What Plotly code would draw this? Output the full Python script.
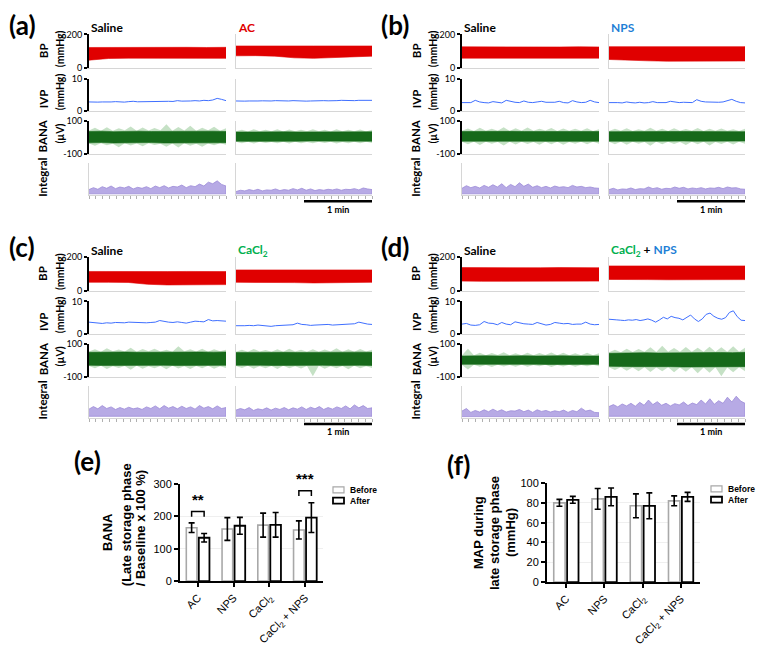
import plotly.graph_objects as go

W, H = 758, 648
FT = "Lato"
FB = "Liberation Sans"

# ---------------- data: recordings (order: a-saline, a-drug, b-saline, b-drug, c-saline, c-drug, d-saline, d-drug)
panel_letters = ["(a)", "(b)", "(c)", "(d)"]
drug_titles = [
    "<span style='color:#e00000'>AC</span>",
    "<span style='color:#1f7fd6'>NPS</span>",
    "<span style='color:#00b050'>CaCl<sub>2</sub></span>",
    "<span style='color:#00b050'>CaCl<sub>2</sub></span> + <span style='color:#1f7fd6'>NPS</span>",
]
row_names = ["BP", "IVP", "BANA", "Integral"]
row_units = ["(mmHg)", "(mmHg)", "(µV)", ""]
row_ranges = [[0, 200], [0, 10], [-100, 100], [0, 10]]
row_ticklabels = [["0", "200"], ["0", "10"], ["-100", "100"], None]

bp_upper = [
    [122, 123, 122, 123, 122, 123, 122, 123],
    [131, 132, 131, 130, 131, 131, 130, 131],
    [126, 125, 126, 125, 126, 125, 126, 125],
    [127, 127, 126, 127, 127, 126, 127, 127],
    [115, 114, 115, 114, 114, 115, 114, 114],
    [124, 124, 123, 124, 124, 123, 124, 124],
    [138, 137, 138, 138, 137, 138, 138, 137],
    [148, 148, 147, 148, 148, 147, 148, 148],
]
bp_lower = [
    [46, 56, 58, 58, 57, 58, 58, 57],
    [72, 73, 70, 60, 57, 60, 65, 70],
    [58, 58, 57, 55, 55, 57, 58, 58],
    [50, 46, 42, 40, 39, 40, 40, 41],
    [50, 50, 49, 38, 34, 34, 35, 36],
    [50, 50, 50, 48, 46, 45, 48, 50],
    [57, 56, 56, 56, 57, 56, 56, 57],
    [67, 66, 66, 65, 66, 66, 65, 66],
]
ivp = [
    [2.8, 2.7, 2.75, 2.8, 2.7, 2.8, 2.9, 2.8, 2.75, 2.9, 3.0, 2.85, 2.9, 2.8, 2.95, 3.0, 2.9, 3.1, 3.0, 2.95, 3.2, 3.05, 3.0, 3.1, 3.2, 3.1, 3.3, 3.2, 3.4, 3.9, 3.6, 3.2],
    [3.1, 3.0, 3.05, 3.1, 3.0, 3.1, 3.15, 3.05, 3.1, 3.2, 3.1, 3.0, 3.1, 3.2, 3.1, 3.15, 3.05, 3.1, 3.2, 3.1, 3.2, 3.15, 3.1, 3.2, 3.3, 3.2, 3.1, 3.2, 3.3, 3.35, 3.25, 3.3],
    [2.6, 2.5, 2.6, 3.3, 2.8, 2.6, 2.5, 2.9, 2.6, 2.5, 3.3, 2.9, 2.7, 2.6, 3.1, 2.7, 2.6, 2.8, 3.0, 2.7, 2.6, 2.7, 3.0, 2.6, 2.5, 3.2, 2.8, 2.6, 2.7, 3.3, 2.8, 2.6],
    [2.6, 2.7, 2.6, 2.5, 2.8, 2.6, 2.5, 2.7, 2.5, 2.6, 2.9, 2.6, 2.5, 2.6, 3.0, 2.7, 2.6, 2.7, 2.6, 2.6, 3.5, 3.0, 2.8, 2.7, 2.6, 2.7, 2.8, 3.1, 3.6, 3.0, 2.6, 2.5],
    [3.6, 3.5, 3.3, 3.2, 3.4, 3.3, 3.5, 3.4, 3.4, 3.6, 3.5, 3.4, 3.5, 3.4, 3.5, 3.6, 4.1, 3.8, 3.6, 3.5, 3.7, 3.5, 3.3, 3.6, 3.9, 3.8, 3.7, 4.4, 4.0, 4.1, 3.9, 3.9],
    [2.5, 2.4, 2.5, 2.6, 2.5, 2.7, 2.6, 2.5, 2.3, 2.5, 2.6, 2.7, 2.6, 2.8, 3.3, 2.9, 2.8, 2.6, 2.7, 2.8, 3.0, 2.9, 2.7, 2.8, 2.9, 3.0, 2.9, 3.1, 3.6, 3.2, 3.0, 2.9],
    [3.0, 3.2, 2.7, 2.6, 2.8, 3.8, 3.3, 3.2, 2.8, 3.5, 3.0, 2.8, 3.7, 3.3, 3.1, 3.0, 2.9, 3.5, 3.0, 2.7, 2.9, 3.5, 3.3, 3.1, 3.2, 2.9, 3.0, 3.0, 3.6, 3.0, 2.8, 2.9],
    [4.5, 4.3, 4.3, 4.2, 4.1, 4.3, 4.2, 4.4, 4.1, 4.3, 4.6, 4.2, 3.6, 4.3, 5.1, 4.6, 5.4, 5.0, 4.8, 4.3, 5.0, 5.8, 4.6, 3.8, 4.6, 6.0, 6.4, 5.4, 4.8, 4.5, 5.0, 6.6, 7.1, 5.3, 4.2, 4.1],
]
bana_core_hi = [
    [36, 38, 35, 37, 38, 36, 37, 39, 38, 37, 38, 36],
    [33, 34, 33, 32, 34, 33, 33, 34, 33, 34, 33, 34],
    [36, 37, 36, 35, 37, 36, 36, 37, 36, 37, 36, 36],
    [35, 36, 35, 36, 35, 36, 36, 35, 36, 35, 36, 35],
    [48, 50, 49, 50, 48, 49, 50, 49, 48, 50, 49, 50],
    [47, 48, 47, 49, 48, 47, 48, 49, 47, 48, 49, 48],
    [26, 28, 27, 26, 28, 27, 26, 28, 27, 26, 27, 26],
    [42, 44, 45, 46, 44, 45, 47, 46, 45, 47, 46, 48],
]
bana_core_lo = [
    [-32, -30, -33, -31, -32, -30, -33, -32, -31, -33, -32, -31],
    [-22, -23, -21, -22, -23, -22, -21, -22, -23, -22, -21, -22],
    [-22, -23, -22, -21, -23, -22, -22, -23, -21, -22, -23, -22],
    [-22, -21, -23, -22, -22, -23, -21, -22, -23, -22, -22, -21],
    [-30, -31, -30, -32, -30, -31, -30, -31, -32, -30, -31, -30],
    [-30, -31, -30, -31, -32, -30, -31, -30, -31, -32, -30, -31],
    [-24, -25, -24, -23, -25, -24, -24, -25, -23, -24, -25, -24],
    [-36, -37, -38, -38, -39, -38, -40, -39, -38, -40, -39, -38],
]
bana_spike_hi = [
    [42, 58, 40, 62, 41, 55, 43, 66, 40, 60, 42, 57, 44, 80, 41, 63, 42, 70, 40, 58, 43, 65, 41, 55],
    [37, 47, 36, 50, 37, 46, 38, 49, 36, 48, 37, 46, 38, 50, 37, 47, 36, 49, 38, 46, 37, 48, 36, 47],
    [40, 54, 39, 58, 41, 52, 40, 62, 39, 55, 41, 60, 40, 53, 42, 57, 39, 54, 41, 52, 40, 56, 39, 50],
    [39, 52, 40, 56, 39, 50, 41, 58, 40, 53, 39, 55, 41, 51, 40, 57, 39, 52, 41, 54, 40, 50, 39, 52],
    [53, 66, 52, 72, 54, 65, 53, 76, 52, 68, 54, 70, 53, 64, 52, 85, 54, 67, 53, 70, 52, 66, 54, 63],
    [52, 64, 51, 68, 53, 62, 52, 66, 51, 70, 53, 64, 52, 67, 51, 65, 53, 72, 52, 66, 51, 68, 53, 64],
    [30, 70, 31, 46, 30, 44, 32, 48, 30, 43, 31, 46, 30, 44, 32, 47, 30, 45, 31, 43, 30, 46, 31, 42],
    [48, 64, 49, 70, 50, 68, 51, 78, 50, 88, 51, 74, 52, 80, 51, 76, 52, 82, 51, 78, 52, 84, 51, 76],
]
bana_spike_lo = [
    [-36, -50, -35, -46, -37, -58, -35, -48, -36, -52, -35, -45, -37, -56, -36, -60, -35, -49, -37, -55, -36, -47, -35, -44],
    [-26, -34, -25, -36, -26, -33, -27, -35, -25, -36, -26, -34, -27, -35, -25, -33, -26, -36, -27, -34, -25, -35, -26, -33],
    [-26, -40, -25, -45, -26, -38, -27, -48, -25, -42, -26, -39, -27, -44, -25, -40, -26, -43, -27, -38, -25, -41, -26, -37],
    [-26, -40, -25, -44, -26, -38, -27, -50, -25, -41, -26, -39, -27, -45, -25, -40, -26, -48, -27, -39, -25, -42, -26, -38],
    [-34, -48, -33, -52, -35, -46, -34, -56, -33, -50, -35, -47, -34, -54, -33, -49, -35, -52, -34, -47, -33, -50, -35, -46],
    [-34, -46, -33, -50, -35, -47, -34, -52, -33, -48, -35, -49, -34, -96, -33, -50, -35, -47, -34, -53, -33, -48, -35, -46],
    [-28, -55, -27, -38, -28, -40, -27, -37, -28, -39, -27, -38, -28, -36, -27, -40, -28, -37, -27, -39, -28, -36, -27, -35],
    [-41, -58, -42, -62, -43, -66, -42, -70, -43, -65, -42, -72, -43, -68, -42, -78, -43, -74, -42, -96, -43, -72, -42, -66],
]
integral_top = [
    [1.8, 2.4, 1.9, 2.7, 2.2, 2.9, 2.1, 2.6, 2.3, 2.8, 2.0, 2.5, 2.2, 2.7, 2.1, 2.9, 2.4, 3.0, 2.3, 2.8, 2.6, 3.2, 2.4, 3.0, 2.7, 3.5, 2.9, 4.1, 3.6, 4.5, 3.4, 2.9],
    [1.2, 1.6, 1.4, 1.8, 1.5, 1.9, 1.4, 1.7, 1.6, 2.0, 1.5, 1.8, 1.6, 2.1, 1.7, 2.2, 1.6, 2.0, 1.5, 1.8, 1.6, 1.9, 1.7, 2.0, 1.6, 1.9, 1.8, 2.1, 1.7, 2.3, 2.0, 1.8],
    [2.2, 3.0, 2.4, 2.8, 2.3, 3.1, 2.5, 3.3, 2.6, 3.6, 2.4, 3.4, 2.7, 3.9, 2.8, 3.5, 2.5, 3.0, 2.4, 2.8, 2.3, 2.9, 2.5, 2.7, 2.4, 3.1, 2.6, 2.8, 2.4, 2.6, 2.3, 2.2],
    [1.8, 2.2, 1.7, 2.0, 1.9, 2.3, 1.8, 2.1, 2.0, 2.6, 2.1, 2.4, 1.9, 2.2, 2.1, 2.6, 2.2, 2.5, 2.0, 2.3, 2.1, 2.4, 2.0, 2.3, 2.2, 2.5, 2.1, 2.6, 2.3, 2.4, 2.0, 1.9],
    [2.8, 3.6, 2.9, 3.9, 3.0, 3.5, 2.7, 3.3, 2.8, 3.4, 2.9, 3.2, 2.7, 3.5, 3.0, 3.8, 2.9, 3.9, 3.1, 3.6, 2.9, 3.7, 3.0, 3.5, 2.8, 3.9, 3.1, 3.6, 2.9, 3.8, 3.0, 3.3],
    [2.5, 3.0, 2.6, 3.3, 2.4, 2.9, 2.6, 3.2, 2.5, 3.1, 2.7, 3.3, 2.6, 3.2, 2.8, 3.5, 2.7, 3.4, 2.9, 3.6, 2.7, 3.3, 2.8, 3.5, 3.0, 3.8, 2.9, 4.1, 3.2, 3.9, 3.0, 3.2],
    [2.2, 3.0, 1.8, 2.4, 1.9, 2.6, 2.0, 2.8, 2.1, 2.6, 1.9, 2.3, 2.2, 2.7, 2.0, 2.5, 1.8, 2.6, 2.1, 2.4, 1.9, 2.3, 2.0, 2.5, 1.8, 2.4, 2.0, 3.1, 2.2, 2.5, 1.8, 1.7],
    [3.6, 4.2, 3.5, 4.4, 3.8, 4.6, 3.7, 4.9, 4.0, 5.6, 4.2, 5.1, 4.0, 4.6, 3.8, 4.5, 4.1, 5.0, 3.9, 4.7, 4.2, 5.6, 4.4, 6.0, 4.3, 5.4, 4.6, 6.5, 5.0, 6.8, 5.3, 4.6],
]
integral_base = [0.5, 0.5, 0.5, 0.5, 0.6, 0.6, 0.5, 0.6]

# ---------------- data: summary bars
groups = ["AC", "NPS", "CaCl2", "CaCl2 + NPS"]
group_labels = ["AC", "NPS", "CaCl<sub>2</sub>", "CaCl<sub>2</sub> + NPS"]
bana_before = [165, 161, 173, 158]
bana_before_err = [15, 35, 37, 28]
bana_after = [134, 171, 174, 196]
bana_after_err = [13, 26, 38, 46]
map_before = [80, 84, 77, 82]
map_before_err = [3.5, 10.5, 12, 5]
map_after = [83, 86, 77, 86]
map_after_err = [3.5, 9, 13, 4.5]
bana_ticks = [0, 100, 200, 300]
map_ticks = [0, 20, 40, 60, 80, 100]
sig_groups = [0, 3]
sig_marks = ["**", "***"]
sig_levels = [215, 279]

# ---------------- helpers
layout = dict(width=W, height=H, margin=dict(l=0, r=0, t=0, b=0),
              plot_bgcolor="white", paper_bgcolor="white", showlegend=False,
              barmode="group", bargap=0.3, bargroupgap=0.15)
annotations, shapes, traces = [], [], []
GRAY = "#d6d6d6"


def pxx(x):
    return x / W


def pyy(y):
    return 1 - y / H


def text(x, y, s, size, color="black", family=FT, angle=0, xanchor="center", yanchor="middle"):
    annotations.append(dict(x=pxx(x), y=pyy(y), xref="paper", yref="paper", text=s, showarrow=False,
                            font=dict(size=size, color=color, family=family), textangle=angle,
                            xanchor=xanchor, yanchor=yanchor))


n_ax = [0]


def new_axes(x0, x1, y0, y1, xopt, yopt):
    n_ax[0] += 1
    n = n_ax[0]
    sx = "" if n == 1 else str(n)
    xa = dict(domain=[pxx(x0), pxx(x1)], anchor="y" + sx, showgrid=False, zeroline=False)
    ya = dict(domain=[pyy(y1), pyy(y0)], anchor="x" + sx, showgrid=False, zeroline=False)
    xa.update(xopt)
    ya.update(yopt)
    layout["xaxis" + sx] = xa
    layout["yaxis" + sx] = ya
    return "x" + sx, "y" + sx


def xs(vals):
    n = len(vals)
    return [i * 100.0 / (n - 1) for i in range(n)]


# ---------------- recordings panels
origins = [(0, 0), (373, 0), (0, 227), (373, 227)]
col_x = [(89, 226), (236, 372)]
row_y = [(29, 63), (74, 107), (117, 151), (160, 193)]

for p in range(4):
    ox, oy = origins[p]
    text(ox + 22, oy + 19, "<b>" + panel_letters[p] + "</b>", 26)
    text(ox + 89, oy + 22, "<b>Saline</b>", 12, xanchor="left")
    text(ox + 236, oy + 22, "<b>" + drug_titles[p] + "</b>", 12, xanchor="left")
    lab_y = [46, 95, 133, 175]
    unit_y = [44, 88, 130, None]
    for r in range(4):
        text(ox + 43, oy + lab_y[r], "<b>" + row_names[r] + "</b>", 11.5, angle=-90)
        if row_units[r]:
            text(ox + 60, oy + unit_y[r], "<b>" + row_units[r] + "</b>", 10.5, angle=-90)
    shapes.append(dict(type="line", xref="paper", yref="paper", x0=pxx(ox + 304), x1=pxx(ox + 372),
                       y0=pyy(oy + 199), y1=pyy(oy + 199), line=dict(color="black", width=2.5)))
    text(ox + 338, oy + 207, "<b>1 min</b>", 9)
    for s in range(2):
        k = 2 * p + s
        x0, x1 = col_x[s]
        for r in range(4):
            y0, y1 = row_y[r]
            xopt = dict(range=[0, 100], showline=True, linecolor=GRAY, linewidth=1,
                        showticklabels=False, ticks="")
            if r == 3:
                xopt.update(ticks="outside", ticklen=3, tickcolor="#b0b0b0", tickwidth=1, dtick=5, tick0=0)
            if s == 0 and r < 3:
                lo, hi = row_ranges[r]
                yopt = dict(range=[lo, hi], showline=True, linecolor="black", linewidth=2,
                            ticks="outside", ticklen=3, tickwidth=2, tickcolor="black",
                            tickvals=[lo, hi], ticktext=row_ticklabels[r],
                            tickfont=dict(family=FT, size=9, color="black"))
            else:
                yopt = dict(range=row_ranges[r], showline=True, linecolor=GRAY, linewidth=1,
                            showticklabels=False, ticks="")
            xa, ya = new_axes(ox + x0, ox + x1, oy + y0, oy + y1, xopt, yopt)
            if r == 0:
                hi, lo = bp_upper[k], bp_lower[k]
                xx = xs(hi)
                traces.append(go.Scatter(x=xx + xx[::-1], y=hi + lo[::-1], fill="toself",
                                         fillcolor="#e00000", line=dict(color="#e00000", width=0.6),
                                         mode="lines", xaxis=xa, yaxis=ya))
            elif r == 1:
                traces.append(go.Scatter(x=xs(ivp[k]), y=ivp[k], mode="lines",
                                         line=dict(color="#3f6fff", width=1), xaxis=xa, yaxis=ya))
            elif r == 2:
                sh, sl = bana_spike_hi[k], bana_spike_lo[k]
                xx = xs(sh)
                traces.append(go.Scatter(x=xx + xx[::-1], y=sh + sl[::-1], fill="toself",
                                         fillcolor="rgba(90,170,90,0.35)", line=dict(width=0),
                                         mode="lines", xaxis=xa, yaxis=ya))
                ch, cl = bana_core_hi[k], bana_core_lo[k]
                xx = xs(ch)
                traces.append(go.Scatter(x=xx + xx[::-1], y=ch + cl[::-1], fill="toself",
                                         fillcolor="#16691a", line=dict(color="#16691a", width=0.6),
                                         mode="lines", xaxis=xa, yaxis=ya))
            else:
                top = integral_top[k]
                xx = xs(top)
                base = [integral_base[k]] * len(top)
                traces.append(go.Scatter(x=xx + xx[::-1], y=top + base[::-1], fill="toself",
                                         fillcolor="rgba(170,155,225,0.85)",
                                         line=dict(color="#9d8bd8", width=0.8),
                                         mode="lines", xaxis=xa, yaxis=ya))

# ---------------- bar charts
bar_specs = [
    dict(box=(180, 323, 487, 586), rng=[0, 300], ticks=bana_ticks, before=bana_before, be=bana_before_err,
         after=bana_after, ae=bana_after_err, letter="(e)", lpos=(87, 464), leg=(333, 493)),
    dict(box=(547, 700, 486, 587), rng=[0, 100], ticks=map_ticks, before=map_before, be=map_before_err,
         after=map_after, ae=map_after_err, letter="(f)", lpos=(458, 468), leg=(711, 492)),
]
for i, b in enumerate(bar_specs):
    x0, x1, y0, y1 = b["box"]
    xopt = dict(type="category", categoryorder="array", categoryarray=groups, showline=True,
                linecolor="black", linewidth=2, ticks="outside", ticklen=4, tickwidth=2, tickcolor="black",
                tickvals=groups, ticktext=group_labels, tickangle=-45,
                tickfont=dict(family=FB, size=11, color="black"))
    yopt = dict(range=b["rng"], showline=True, linecolor="black", linewidth=2, ticks="outside",
                ticklen=4, tickwidth=2, tickcolor="black", tickvals=b["ticks"],
                tickfont=dict(family=FB, size=11, color="black"), showgrid=True, gridcolor="#efefef",
                gridwidth=1)
    xa, ya = new_axes(x0, x1, y0, y1, xopt, yopt)
    traces.append(go.Bar(x=groups, y=b["before"], xaxis=xa, yaxis=ya, name="Before",
                         marker=dict(color="white", line=dict(color="#a8a8a8", width=1.6)),
                         error_y=dict(type="data", array=b["be"], color="black", thickness=1.6, width=3)))
    traces.append(go.Bar(x=groups, y=b["after"], xaxis=xa, yaxis=ya, name="After",
                         marker=dict(color="white", line=dict(color="black", width=1.8)),
                         error_y=dict(type="data", array=b["ae"], color="black", thickness=1.6, width=3)))
    text(b["lpos"][0], b["lpos"][1], "<b>" + b["letter"] + "</b>", 26)
    lx, ly = b["leg"]
    for j, (nm, col, lw) in enumerate([("Before", "#a8a8a8", 1.2), ("After", "black", 1.8)]):
        yy = ly + 11 * j
        shapes.append(dict(type="rect", xref="paper", yref="paper", x0=pxx(lx), x1=pxx(lx + 11),
                           y0=pyy(yy + 3), y1=pyy(yy - 3), line=dict(color=col, width=lw),
                           fillcolor="white"))
        text(lx + 15, yy, "<b>" + nm + "</b>", 8.5, family=FB, xanchor="left")
    if i == 0:
        for g, m, lev in zip(sig_groups, sig_marks, sig_levels):
            shapes.append(dict(type="path", xref=xa, yref=ya,
                               path=f"M {g - 0.175} {lev - 16} L {g - 0.175} {lev} L {g + 0.175} {lev} L {g + 0.175} {lev - 16}",
                               line=dict(color="black", width=1.5)))
            annotations.append(dict(x=g, y=lev + 4, xref=xa, yref=ya, text="<b>" + m + "</b>",
                                    showarrow=False, yanchor="bottom",
                                    font=dict(family=FB, size=15, color="black")))

# bar chart y titles
text(107, 536, "<b>BANA</b>", 13, family=FB, angle=-90)
text(126, 529, "<b>(Late storage phase</b>", 13, family=FB, angle=-90)
text(140, 532, "<b>/ Baseline x 100 %)</b>", 13, family=FB, angle=-90)
text(478, 537, "<b>MAP during</b>", 13, family=FB, angle=-90)
text(494, 537, "<b>late storage phase</b>", 13, family=FB, angle=-90)
text(510, 537, "<b>(mmHg)</b>", 13, family=FB, angle=-90)

layout["annotations"] = annotations
layout["shapes"] = shapes
fig = go.Figure(data=traces, layout=layout)
fig.write_html("out.html", config={"displayModeBar": False},
               post_script="document.body.style.margin='0';")
